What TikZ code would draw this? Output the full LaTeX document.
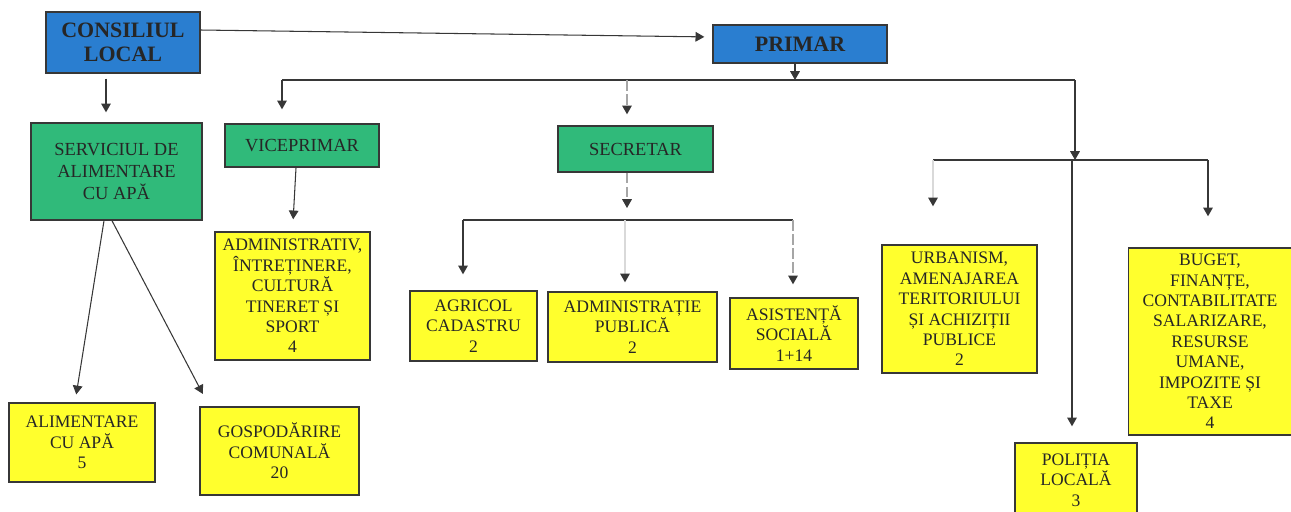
\documentclass[tikz,border=0pt]{standalone}
\usepackage{fontspec}
\setmainfont{Liberation Serif}
\usetikzlibrary{positioning}
\usetikzlibrary{calc}
\usetikzlibrary{arrows.meta}
\definecolor{boxblue}{RGB}{42,126,208}
\definecolor{boxgreen}{RGB}{48,186,122}
\definecolor{boxyellow}{RGB}{255,255,45}
\definecolor{linegray}{RGB}{55,55,55}
\tikzset{%
  sz/.style 2 args = {minimum width=#1*0.2mm, minimum height=#2*0.2mm},
  box/.style = {rectangle,draw=linegray,line width=0.8pt,inner sep=0pt,
        align=center,text=black!85},
  bluebox/.style = {box,fill=boxblue,
        font=\fontsize{12.5}{14}\selectfont\bfseries},
  greenbox/.style = {box,fill=boxgreen,
        font=\fontsize{10.5}{12.3}\selectfont},
  yellowbox/.style = {box,fill=boxyellow,
        font=\fontsize{10}{11.6}\selectfont},
  arr/.style = {-{Triangle[width=5.5pt,length=5pt,color=linegray]},draw=linegray,line width=0.6pt},
  faded/.style = {draw=gray!70,dashed,dash pattern=on 6pt off 2pt},
  faint/.style = {draw=gray!30}
}

\begin{document}
\begin{tikzpicture}[x=0.2mm,y=-0.2mm]
    \useasboundingbox (0,0) rectangle (1291,511);
    % top level
    \node[bluebox,sz={154}{61}] (consiliu) at (123,42.5) {CONSILIUL\\LOCAL};
    \node[bluebox,sz={174}{38}] (primar) at (800,44) {PRIMAR};
    % second level
    \node[greenbox,sz={171}{97}] (serviciu) at (116.5,171.5) {SERVICIUL DE\\ALIMENTARE\\CU APĂ};
    \node[greenbox,sz={154}{43}] (viceprimar) at (302,145.5) {VICEPRIMAR};
    \node[greenbox,sz={155}{46}] (secretar) at (635.5,149) {SECRETAR};
    % compartimente
    \node[yellowbox,sz={155}{128}] (administrativ) at (292.5,296)
        {ADMINISTRATIV,\\ÎNTREȚINERE,\\CULTURĂ\\TINERET ȘI\\SPORT\\4};
    \node[yellowbox,sz={127}{70}] (agricol) at (473.5,326) {AGRICOL\\CADASTRU\\2};
    \node[yellowbox,sz={169}{70}] (adminpub) at (632.5,327) {ADMINISTRAȚIE\\PUBLICĂ\\2};
    \node[yellowbox,sz={128}{71}] (asistenta) at (794,333.5) {ASISTENȚĂ\\SOCIALĂ\\1+14};
    \node[yellowbox,sz={155}{128}] (urbanism) at (959.5,309)
        {URBANISM,\\AMENAJAREA\\TERITORIULUI\\ȘI ACHIZIȚII\\PUBLICE\\2};
    \node[yellowbox,sz={163}{187}] (buget) at (1210,341.5)
        {BUGET,\\FINANȚE,\\CONTABILITATE\\SALARIZARE,\\RESURSE\\UMANE,\\IMPOZITE ȘI\\TAXE\\4};
    \node[yellowbox,sz={122}{74}] (politia) at (1076,480) {POLIȚIA\\LOCALĂ\\3};
    \node[yellowbox,sz={146}{79}] (alimentare) at (82,442.5) {ALIMENTARE\\CU APĂ\\5};
    \node[yellowbox,sz={159}{88}] (gospodarire) at (279.5,451) {GOSPODĂRIRE\\COMUNALĂ\\20};
    % bus lines
    \coordinate (busL) at (282,80);
    \coordinate (busR) at (1075,80);
    \coordinate (bus2L) at (933,160);
    \coordinate (bus2M) at (1072,160);
    \coordinate (bus2R) at (1208,160);
    \coordinate (bus3L) at (463,220);
    \coordinate (bus3R) at (793,220);
    % connectors
    \draw[arr,shorten >=1.6mm] ([yshift=2.5mm]consiliu.east) -- ([yshift=1.4mm]primar.west);
    \draw[arr,shorten <=1mm,shorten >=2mm] ([xshift=-3.4mm]consiliu.south) -- ([xshift=-3.4mm]consiliu.south |- serviciu.north);
    \draw[arr] ([xshift=-1mm]primar.south) -- ([xshift=-1mm]primar.south |- busL);
    \draw[linegray,line width=0.6pt] (busL) -- (busR);
    \draw[arr,shorten >=2.8mm] (busL) -- (busL |- viceprimar.north);
    \draw[arr,faded,shorten >=2.2mm] ([xshift=-1.7mm]secretar.north |- busL) -- ([xshift=-1.7mm]secretar.north);
    \draw[arr] (busR) -- (busR |- bus2M);
    \draw[linegray,line width=0.6pt] (bus2L) -- (bus2R);
    \draw[arr,faint,shorten >=7.6mm] (bus2L) -- (bus2L |- urbanism.north);
    \draw[arr,shorten >=6.2mm] (bus2R) -- (bus2R |- buget.north);
    \draw[arr,shorten >=3.2mm] (bus2M) -- (bus2M |- politia.north);
    \draw[arr,shorten >=2.4mm] ([xshift=-1.2mm]viceprimar.south) -- (administrativ.north);
    \draw[arr,faded,shorten >=2.4mm] ([xshift=-1.7mm]secretar.south) -- ([xshift=-1.7mm]secretar.south |- bus3L);
    \draw[linegray,line width=0.6pt] (bus3L) -- (bus3R);
    \draw[arr,shorten >=3.2mm] (bus3L) -- (bus3L |- agricol.north);
    \draw[arr,faint,shorten >=1.8mm] ([xshift=-1.5mm]adminpub.north |- bus3L) -- ([xshift=-1.5mm]adminpub.north);
    \draw[arr,faded,shorten >=2.6mm] (bus3R) -- (bus3R |- asistenta.north);
    \draw[arr,shorten >=1.6mm] ([xshift=-2.5mm]serviciu.south) -- ([xshift=-1.4mm]alimentare.north);
    \draw[arr,shorten >=2.8mm] ([xshift=-0.9mm]serviciu.south) -- ([xshift=2mm]gospodarire.north west);
\end{tikzpicture}
\end{document}
